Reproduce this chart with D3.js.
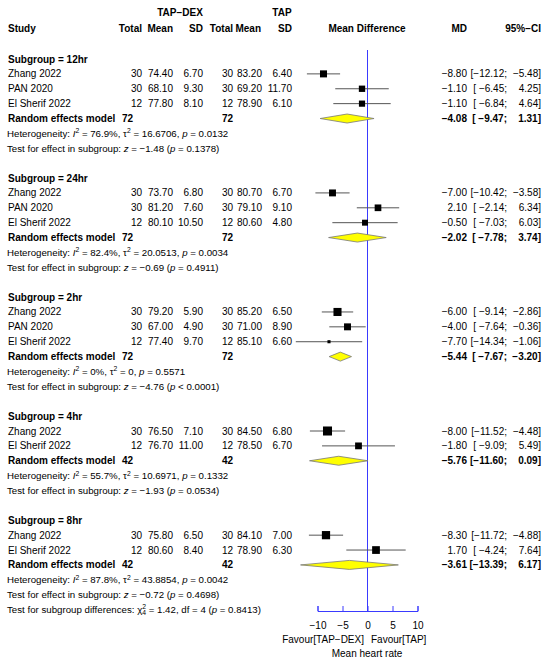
<!DOCTYPE html>
<html>
<head>
<meta charset="utf-8">
<script src="https://cdn.jsdelivr.net/npm/d3@7"></script>
<style>
  body { margin: 0; background: #fff; }
  text { font-family: "Liberation Sans", Arial, sans-serif; fill: #000; }
</style>
</head>
<body>
<div id="container"></div>
<script>
// subgroups and their summary statistics
const groupLabels = ["12hr", "24hr", "2hr", "4hr", "8hr"];
const pooledExpN = [72, 72, 72, 42, 42];
const pooledCtlN = [72, 72, 72, 42, 42];
const pooledMD = [-4.08, -2.02, -5.44, -5.76, -3.61];
const pooledLow = [-9.47, -7.78, -7.67, -11.60, -13.39];
const pooledHigh = [1.31, 3.74, -3.20, 0.09, 6.17];
const hetI2 = ["76.9%", "82.4%", "0%", "55.7%", "87.8%"];
const hetTau2 = ["16.6706", "20.0513", "0", "10.6971", "43.8854"];
const hetP = ["0.0132", "0.0034", "0.5571", "0.1332", "0.0042"];
const testZ = ["−1.48", "−0.69", "−4.76", "−1.93", "−0.72"];
const testP = ["= 0.1378", "= 0.4911", "< 0.0001", "= 0.0534", "= 0.4698"];

// individual studies
const studyGroup = [0, 0, 0, 1, 1, 1, 2, 2, 2, 3, 3, 4, 4];
const studyNames = ["Zhang 2022", "PAN 2020", "El Sherif 2022",
                    "Zhang 2022", "PAN 2020", "El Sherif 2022",
                    "Zhang 2022", "PAN 2020", "El Sherif 2022",
                    "Zhang 2022", "El Sherif 2022",
                    "Zhang 2022", "El Sherif 2022"];
const expTotal = [30, 30, 12, 30, 30, 12, 30, 30, 12, 30, 12, 30, 12];
const expMean = [74.4, 68.1, 77.8, 73.7, 81.2, 80.1, 79.2, 67.0, 77.4, 76.5, 76.7, 75.8, 80.6];
const expSD = [6.7, 9.3, 8.1, 6.8, 7.6, 10.5, 5.9, 4.9, 9.7, 7.1, 11.0, 6.5, 8.4];
const ctlTotal = [30, 30, 12, 30, 30, 12, 30, 30, 12, 30, 12, 30, 12];
const ctlMean = [83.2, 69.2, 78.9, 80.7, 79.1, 80.6, 85.2, 71.0, 85.1, 84.5, 78.5, 84.1, 78.9];
const ctlSD = [6.4, 11.7, 6.1, 6.7, 9.1, 4.8, 6.5, 8.9, 6.6, 6.8, 6.7, 7.0, 6.3];
const studyMD = [-8.80, -1.10, -1.10, -7.00, 2.10, -0.50, -6.00, -4.00, -7.70, -8.00, -1.80, -8.30, 1.70];
const ciLow = [-12.12, -6.45, -6.84, -10.42, -2.14, -7.03, -9.14, -7.64, -14.34, -11.52, -9.09, -11.72, -4.24];
const ciHigh = [-5.48, 4.25, 4.64, -3.58, 6.34, 6.03, -2.86, -0.36, -1.06, -4.48, 5.49, -4.88, 7.64];
const weight = [38.7, 31.4, 29.9, 37.4, 34.9, 27.7, 50.8, 37.8, 7.5, 63.8, 36.2, 53.1, 46.9];

const axisTicks = [-10, -5, 0, 5, 10];

const width = 550, height = 667;
const rowStart = 59, rowStep = 14.88;
const rowY = i => rowStart + i * rowStep;

const svg = d3.select("#container").append("svg")
    .attr("width", width)
    .attr("height", height);

const x = d3.scaleLinear().domain([-10, 10]).range([317.5, 417.5]);
const fmt2 = d3.format(".2f");
const minus = s => s.replace(/-/g, "\u2212");
const num = v => minus(fmt2(v));

// build the list of rows
const rows = [];
let r = 0;
groupLabels.forEach((g, gi) => {
    rows.push({type: "group", g: gi, y: rowY(r++)});
    studyGroup.forEach((sg, si) => {
        if (sg === gi) rows.push({type: "study", i: si, y: rowY(r++)});
    });
    rows.push({type: "pooled", g: gi, y: rowY(r++)});
    rows.push({type: "het", g: gi, y: rowY(r++)});
    rows.push({type: "test", g: gi, y: rowY(r++)});
    r++;
});
const diffY = rowY(r - 1);
const axisY = 611;

function txt(xp, y, s, anchor, opts = {}) {
    return svg.append("text")
        .attr("x", xp).attr("y", y).attr("dy", "0.35em")
        .attr("text-anchor", anchor || "start")
        .attr("font-size", opts.size || 10)
        .attr("font-weight", opts.bold ? "bold" : "normal")
        .text(s);
}

function ciText(y, lo, hi, bold) {
    const l = num(lo);
    const pad = l.length < 6 ? " " : "";
    txt(507, y, "[" + pad + l + ";", "end", {bold}).attr("xml:space", "preserve");
    txt(541, y, num(hi) + "]", "end", {bold});
}

// headers
const hb = {bold: true};
txt(180, 12, "TAP\u2212DEX", "middle", hb);
txt(282, 12, "TAP", "middle", hb);
txt(8, 28, "Study", "start", hb);
txt(142, 28, "Total", "end", hb);
txt(173, 28, "Mean", "end", hb);
txt(203, 28, "SD", "end", hb);
txt(233, 28, "Total", "end", hb);
txt(261, 28, "Mean", "end", hb);
txt(292, 28, "SD", "end", hb);
txt(367, 28, "Mean Difference", "middle", hb);
txt(467, 28, "MD", "end", hb);
txt(541, 28, "95%\u2212CI", "end", hb);

// reference line
svg.append("line")
    .attr("x1", x(0)).attr("x2", x(0))
    .attr("y1", 50).attr("y2", axisY)
    .attr("stroke", "#3a3aff").attr("stroke-width", 1);

// rich text helper (italic / sup / sub pieces)
function richText(y, parts) {
    const t = svg.append("text")
        .attr("x", 7).attr("y", y).attr("dy", "0.35em")
        .attr("font-size", 9.7)
        .attr("xml:space", "preserve");
    parts.forEach(p => {
        const ts = t.append("tspan").text(p.t);
        if (p.it) ts.attr("font-style", "italic");
        if (p.fs) ts.attr("font-size", p.fs);
        if (p.dy) ts.attr("dy", p.dy);
        if (p.dx) ts.attr("dx", p.dx);
    });
}

rows.forEach(row => {
    if (row.type === "group") {
        txt(8, row.y, "Subgroup = " + groupLabels[row.g], "start", hb);
    } else if (row.type === "study") {
        const i = row.i;
        txt(8, row.y, studyNames[i]);
        txt(142, row.y, expTotal[i], "end");
        txt(173, row.y, fmt2(expMean[i]), "end");
        txt(203, row.y, fmt2(expSD[i]), "end");
        txt(233, row.y, ctlTotal[i], "end");
        txt(262, row.y, fmt2(ctlMean[i]), "end");
        txt(292, row.y, fmt2(ctlSD[i]), "end");
        txt(467, row.y, num(studyMD[i]), "end");
        ciText(row.y, ciLow[i], ciHigh[i], false);

        svg.append("line")
            .attr("x1", x(ciLow[i])).attr("x2", x(ciHigh[i]))
            .attr("y1", row.y).attr("y2", row.y)
            .attr("stroke", "#555").attr("stroke-width", 1);
        const s = 11.3 * Math.sqrt(weight[i] / 100);
        svg.append("rect")
            .attr("x", x(studyMD[i]) - s / 2).attr("y", row.y - s / 2)
            .attr("width", s).attr("height", s)
            .attr("fill", "#000");
    } else if (row.type === "pooled") {
        const g = row.g;
        txt(8, row.y, "Random effects model", "start", hb);
        txt(122, row.y, pooledExpN[g], "start", hb);
        txt(222, row.y, pooledCtlN[g], "start", hb);
        txt(467, row.y, num(pooledMD[g]), "end", hb);
        ciText(row.y, pooledLow[g], pooledHigh[g], true);

        const h = 4.5;
        const pts = [[x(pooledLow[g]), row.y], [x(pooledMD[g]), row.y - h],
                     [x(pooledHigh[g]), row.y], [x(pooledMD[g]), row.y + h]];
        svg.append("path")
            .attr("d", d3.line()(pts) + "Z")
            .attr("fill", "#ffff00")
            .attr("stroke", "#777").attr("stroke-width", 0.8);
    } else if (row.type === "het") {
        const g = row.g;
        richText(row.y, [
            {t: "Heterogeneity: "}, {t: "I", it: true},
            {t: "2", fs: 6.8, dy: -3.5}, {t: " = " + hetI2[row.g] + ", ", dy: 3.5},
            {t: "\u03c4"}, {t: "2", fs: 6.8, dy: -3.5},
            {t: " = " + hetTau2[g] + ", ", dy: 3.5}, {t: "p", it: true},
            {t: " = " + hetP[g]}
        ]);
    } else if (row.type === "test") {
        const g = row.g;
        richText(row.y, [
            {t: "Test for effect in subgroup: "}, {t: "z", it: true},
            {t: " = " + testZ[g] + " ("}, {t: "p", it: true},
            {t: " " + testP[g] + ")"}
        ]);
    }
});

richText(diffY, [
    {t: "Test for subgroup differences: "}, {t: "\u03c7"},
    {t: "4", fs: 6.8, dy: 2.5}, {t: "2", fs: 6.8, dx: -3.8, dy: -6.5},
    {t: " = 1.42, df = 4 (", dy: 4}, {t: "p", it: true}, {t: " = 0.8413)"}
]);

// axis
const axis = svg.append("g")
    .attr("transform", `translate(0,${axisY})`)
    .call(d3.axisBottom(x).tickValues(axisTicks)
        .tickSizeInner(-5).tickSizeOuter(-5).tickPadding(11));
axis.select(".domain").attr("stroke", "#3a3aff");
axis.selectAll(".tick line").attr("stroke", "#3a3aff");
axis.selectAll(".tick text")
    .attr("font-size", 10)
    .attr("font-family", "Liberation Sans, Arial, sans-serif")
    .attr("fill", "#000");

txt(364, 639, "Favour[TAP\u2212DEX]", "end");
txt(371, 639, "Favour[TAP]", "start");
txt(367, 653, "Mean heart rate", "middle");
</script>
</body>
</html>
